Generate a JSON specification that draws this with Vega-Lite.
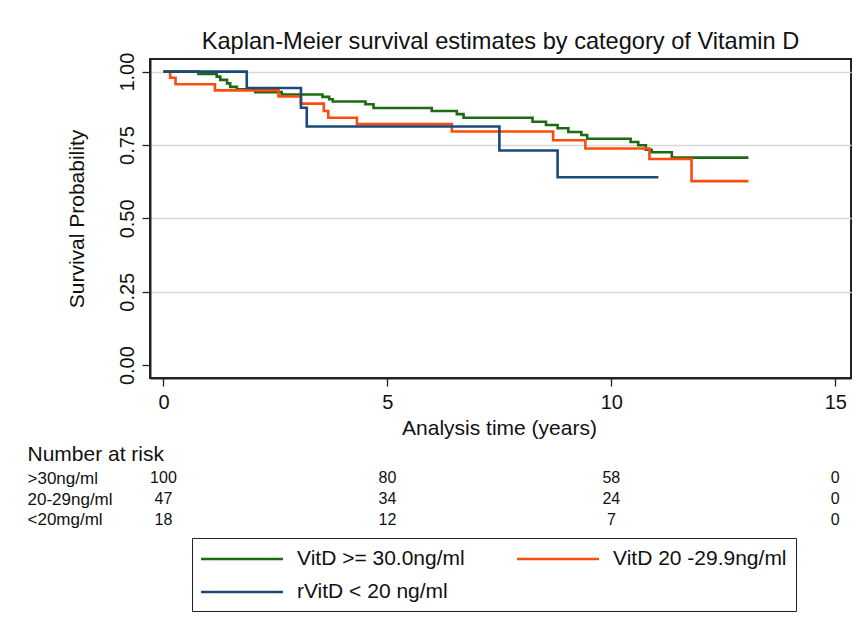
{
  "$schema": "https://vega.github.io/schema/vega-lite/v6.json",
  "background": "white",
  "padding": {"left": 27, "top": 28, "right": 8, "bottom": 5},
  "config": {
    "font": "Liberation Sans",
    "view": {"stroke": null},
    "concat": {"spacing": 4}
  },
  "datasets": {
    "km": [
      {"group": "VitD >= 30.0ng/ml", "time": 0, "surv": 1.0},
      {"group": "VitD >= 30.0ng/ml", "time": 0.78, "surv": 0.992},
      {"group": "VitD >= 30.0ng/ml", "time": 1.19, "surv": 0.983},
      {"group": "VitD >= 30.0ng/ml", "time": 1.27, "surv": 0.972},
      {"group": "VitD >= 30.0ng/ml", "time": 1.42, "surv": 0.960},
      {"group": "VitD >= 30.0ng/ml", "time": 1.49, "surv": 0.948},
      {"group": "VitD >= 30.0ng/ml", "time": 1.64, "surv": 0.940},
      {"group": "VitD >= 30.0ng/ml", "time": 2.05, "surv": 0.930},
      {"group": "VitD >= 30.0ng/ml", "time": 2.64, "surv": 0.922},
      {"group": "VitD >= 30.0ng/ml", "time": 3.55, "surv": 0.914},
      {"group": "VitD >= 30.0ng/ml", "time": 3.70, "surv": 0.906},
      {"group": "VitD >= 30.0ng/ml", "time": 3.78, "surv": 0.898},
      {"group": "VitD >= 30.0ng/ml", "time": 4.51, "surv": 0.889},
      {"group": "VitD >= 30.0ng/ml", "time": 4.69, "surv": 0.876},
      {"group": "VitD >= 30.0ng/ml", "time": 5.99, "surv": 0.866},
      {"group": "VitD >= 30.0ng/ml", "time": 6.55, "surv": 0.855},
      {"group": "VitD >= 30.0ng/ml", "time": 6.70, "surv": 0.843},
      {"group": "VitD >= 30.0ng/ml", "time": 8.24, "surv": 0.829},
      {"group": "VitD >= 30.0ng/ml", "time": 8.54, "surv": 0.818},
      {"group": "VitD >= 30.0ng/ml", "time": 8.80, "surv": 0.807},
      {"group": "VitD >= 30.0ng/ml", "time": 9.04, "surv": 0.794},
      {"group": "VitD >= 30.0ng/ml", "time": 9.33, "surv": 0.784},
      {"group": "VitD >= 30.0ng/ml", "time": 9.46, "surv": 0.771},
      {"group": "VitD >= 30.0ng/ml", "time": 10.43, "surv": 0.760},
      {"group": "VitD >= 30.0ng/ml", "time": 10.60, "surv": 0.749},
      {"group": "VitD >= 30.0ng/ml", "time": 10.77, "surv": 0.734},
      {"group": "VitD >= 30.0ng/ml", "time": 10.90, "surv": 0.725},
      {"group": "VitD >= 30.0ng/ml", "time": 11.35, "surv": 0.707},
      {"group": "VitD >= 30.0ng/ml", "time": 13.06, "surv": 0.707},
      {"group": "VitD 20 -29.9ng/ml", "time": 0, "surv": 1.0},
      {"group": "VitD 20 -29.9ng/ml", "time": 0.15, "surv": 0.979},
      {"group": "VitD 20 -29.9ng/ml", "time": 0.27, "surv": 0.957},
      {"group": "VitD 20 -29.9ng/ml", "time": 1.15, "surv": 0.936},
      {"group": "VitD 20 -29.9ng/ml", "time": 2.57, "surv": 0.915},
      {"group": "VitD 20 -29.9ng/ml", "time": 3.07, "surv": 0.891},
      {"group": "VitD 20 -29.9ng/ml", "time": 3.58, "surv": 0.866},
      {"group": "VitD 20 -29.9ng/ml", "time": 3.68, "surv": 0.843},
      {"group": "VitD 20 -29.9ng/ml", "time": 4.32, "surv": 0.821},
      {"group": "VitD 20 -29.9ng/ml", "time": 6.44, "surv": 0.796},
      {"group": "VitD 20 -29.9ng/ml", "time": 8.70, "surv": 0.766},
      {"group": "VitD 20 -29.9ng/ml", "time": 9.42, "surv": 0.738},
      {"group": "VitD 20 -29.9ng/ml", "time": 10.85, "surv": 0.702},
      {"group": "VitD 20 -29.9ng/ml", "time": 11.79, "surv": 0.627},
      {"group": "VitD 20 -29.9ng/ml", "time": 13.06, "surv": 0.627},
      {"group": "rVitD < 20 ng/ml", "time": 0, "surv": 1.0},
      {"group": "rVitD < 20 ng/ml", "time": 1.86, "surv": 0.944},
      {"group": "rVitD < 20 ng/ml", "time": 3.07, "surv": 0.877},
      {"group": "rVitD < 20 ng/ml", "time": 3.20, "surv": 0.813},
      {"group": "rVitD < 20 ng/ml", "time": 7.50, "surv": 0.731},
      {"group": "rVitD < 20 ng/ml", "time": 8.80, "surv": 0.640},
      {"group": "rVitD < 20 ng/ml", "time": 11.05, "surv": 0.640}
    ],
    "risk": [
      {"grp": ">30ng/ml", "time": 0, "n": 100},
      {"grp": ">30ng/ml", "time": 5, "n": 80},
      {"grp": ">30ng/ml", "time": 10, "n": 58},
      {"grp": ">30ng/ml", "time": 15, "n": 0},
      {"grp": "20-29ng/ml", "time": 0, "n": 47},
      {"grp": "20-29ng/ml", "time": 5, "n": 34},
      {"grp": "20-29ng/ml", "time": 10, "n": 24},
      {"grp": "20-29ng/ml", "time": 15, "n": 0},
      {"grp": "<20mg/ml", "time": 0, "n": 18},
      {"grp": "<20mg/ml", "time": 5, "n": 12},
      {"grp": "<20mg/ml", "time": 10, "n": 7},
      {"grp": "<20mg/ml", "time": 15, "n": 0}
    ]
  },
  "vconcat": [
    {
      "width": 701,
      "height": 319,
      "title": {
        "text": "Kaplan-Meier survival estimates by category of Vitamin D",
        "fontSize": 23.6,
        "fontWeight": "normal",
        "color": "#111",
        "anchor": "middle",
        "offset": -1
      },
      "view": {"stroke": "#222", "strokeWidth": 2},
      "data": {"name": "km"},
      "mark": {"type": "line", "interpolate": "step-after", "strokeWidth": 2.6},
      "encoding": {
        "x": {
          "field": "time",
          "type": "quantitative",
          "scale": {"domain": [-0.3, 15.35], "nice": false, "zero": false},
          "axis": {
            "values": [0, 5, 10, 15],
            "title": "Analysis time (years)",
            "grid": false,
            "domain": true,
            "domainColor": "#222",
            "domainWidth": 2,
            "tickColor": "#222",
            "tickSize": 8,
            "tickWidth": 1.3,
            "labelFontSize": 20,
            "labelColor": "#111",
            "labelPadding": 6,
            "titleFontSize": 21,
            "titleFontWeight": "normal",
            "titleColor": "#111",
            "titleX": 349,
            "titleY": 56,
            "titleBaseline": "alphabetic",
            "titleAlign": "center"
          }
        },
        "y": {
          "field": "surv",
          "type": "quantitative",
          "scale": {"domain": [-0.044, 1.043], "nice": false, "zero": false},
          "axis": {
            "values": [0, 0.25, 0.5, 0.75, 1],
            "format": ".2f",
            "title": "Survival Probability",
            "grid": true,
            "gridColor": "#d8d8d8",
            "gridWidth": 1.5,
            "gridOpacity": {"condition": {"test": "datum.value === 0", "value": 0}, "value": 1},
            "domain": true,
            "domainColor": "#222",
            "domainWidth": 2,
            "tickColor": "#222",
            "tickSize": 8,
            "tickWidth": 1.3,
            "labelFontSize": 20,
            "labelColor": "#111",
            "labelAngle": -90,
            "labelAlign": "center",
            "labelBaseline": "bottom",
            "labelPadding": 5,
            "titleFontSize": 21,
            "titleFontWeight": "normal",
            "titleColor": "#111",
            "titleAngle": -90,
            "titleX": -67,
            "titleY": 159.5,
            "titleAlign": "center",
            "titleBaseline": "alphabetic"
          }
        },
        "color": {
          "field": "group",
          "type": "nominal",
          "scale": {
            "domain": ["VitD >= 30.0ng/ml", "VitD 20 -29.9ng/ml", "rVitD < 20 ng/ml"],
            "range": ["#1e6a14", "#fc4c0c", "#1c4a78"]
          },
          "legend": {
            "orient": "none",
            "legendX": 42,
            "legendY": 479,
            "direction": "horizontal",
            "title": null,
            "columns": 2,
            "symbolType": "M-4,0L4,0",
            "symbolSize": 420,
            "symbolStrokeWidth": 2.6,
            "symbolOffset": 29,
            "labelFontSize": 21,
            "labelColor": "#111",
            "labelOffset": 43,
            "labelLimit": 400,
            "columnPadding": 46,
            "rowPadding": 11,
            "padding": 9,
            "strokeColor": "#222"
          }
        }
      }
    },
    {
      "width": 701,
      "height": 62,
      "data": {"name": "risk"},
      "mark": {"type": "text", "fontSize": 16, "align": "center", "baseline": "middle", "color": "#111"},
      "encoding": {
        "x": {
          "field": "time",
          "type": "quantitative",
          "scale": {"domain": [-0.3, 15.35], "nice": false, "zero": false},
          "axis": null
        },
        "y": {
          "field": "grp",
          "type": "nominal",
          "scale": {"domain": [">30ng/ml", "20-29ng/ml", "<20mg/ml"], "paddingInner": 0, "paddingOuter": 0},
          "axis": {
            "title": "Number at risk",
            "titleAngle": 0,
            "titleX": -123,
            "titleY": -8,
            "titleAlign": "left",
            "titleBaseline": "alphabetic",
            "titleFontSize": 21,
            "titleFontWeight": "normal",
            "titleColor": "#111",
            "labelAlign": "left",
            "labelBaseline": "middle",
            "labelPadding": 123,
            "labelFontSize": 17,
            "labelColor": "#111",
            "ticks": false,
            "tickSize": 0,
            "domain": false,
            "grid": false
          }
        },
        "text": {"field": "n", "type": "quantitative"}
      }
    }
  ]
}
